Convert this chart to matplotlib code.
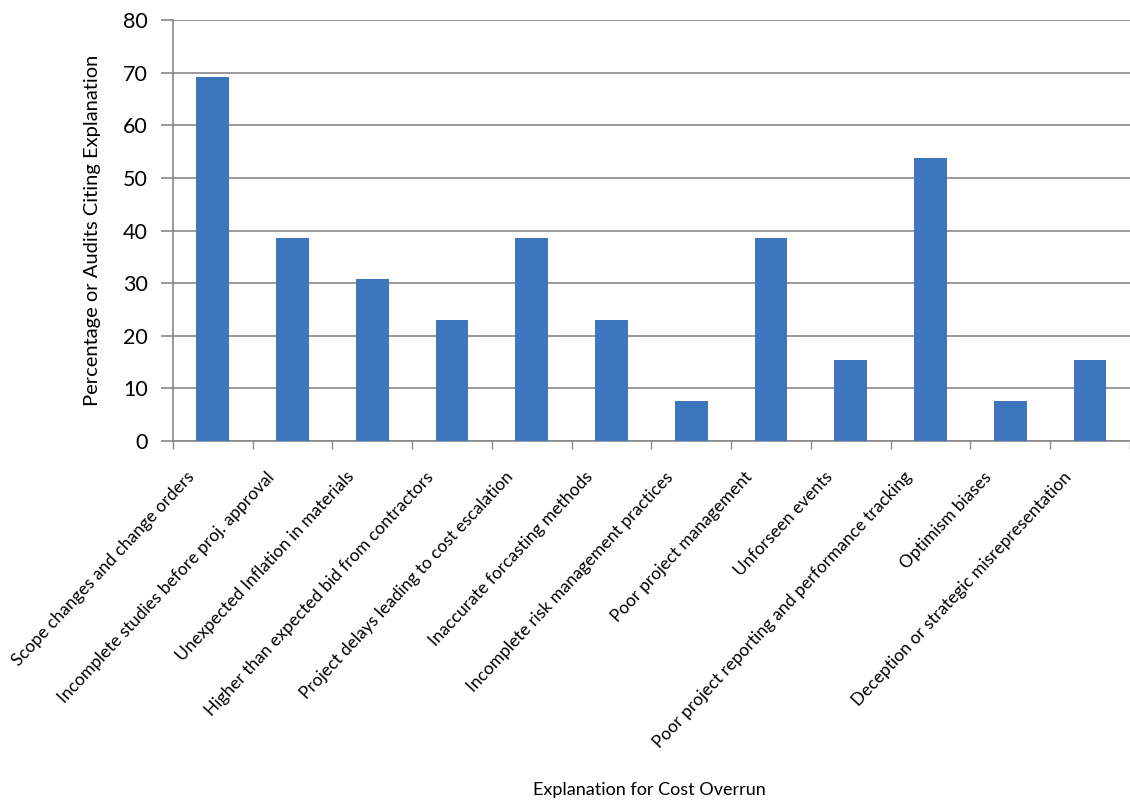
import matplotlib.pyplot as plt
from matplotlib.transforms import ScaledTranslation

plt.rcParams['font.family'] = ['Lato', 'DejaVu Sans']

categories = [
    'Scope changes and change orders',
    'Incomplete studies before proj. approval',
    'Unexpected Inflation in materials',
    'Higher than expected bid from contractors',
    'Project delays leading to cost escalation',
    'Inaccurate forcasting methods',
    'Incomplete risk management practices',
    'Poor project management',
    'Unforseen events',
    'Poor project reporting and performance tracking',
    'Optimism biases',
    'Deception or strategic misrepresentation',
]
values = [69.2, 38.5, 30.8, 23.1, 38.5, 23.1, 7.7, 38.5, 15.4, 53.8, 7.7, 15.4]
yticks = [0, 10, 20, 30, 40, 50, 60, 70, 80]

fig = plt.figure(figsize=(11.3, 8.07), dpi=100)
ax = fig.add_axes([0.153, 0.4535, 0.847, 0.5215])

x = list(range(len(categories)))
ax.bar(x, values, width=0.41, color='#3D76BD', zorder=3)

ax.set_xlim(-0.5, len(categories) - 0.5)
ax.set_ylim(0, 80)
ax.set_yticks(yticks)
ax.tick_params(axis='y', labelsize=15.5, length=9, color='#888888', width=1.2, pad=9)
ax.yaxis.grid(True, color='#888888', linewidth=1.2, zorder=0)

# category labels between the minor tick marks
ax.set_xticks(x)
ax.set_xticklabels(categories, rotation=47, ha='right', rotation_mode='anchor', fontsize=12.5)
ax.tick_params(axis='x', which='major', length=0, pad=20)
ax.set_xticks([i - 0.5 for i in range(len(categories) + 1)], minor=True)
ax.tick_params(axis='x', which='minor', length=6, color='#888888', width=1)
shift = ScaledTranslation(-0.27, 0, fig.dpi_scale_trans)
for lbl in ax.get_xticklabels():
    lbl.set_transform(lbl.get_transform() + shift)

for side in ['top', 'right']:
    ax.spines[side].set_visible(False)
ax.spines['left'].set_color('#888888')
ax.spines['bottom'].set_color('#888888')
ax.spines['left'].set_linewidth(1.2)
ax.spines['bottom'].set_linewidth(1.2)

ax.set_ylabel('Percentage or Audits Citing Explanation', fontsize=14.5, labelpad=16)
fig.text(0.575, 0.015, 'Explanation for Cost Overrun', fontsize=13, ha='center')

fig.savefig('out.png', dpi=100, facecolor='white')
